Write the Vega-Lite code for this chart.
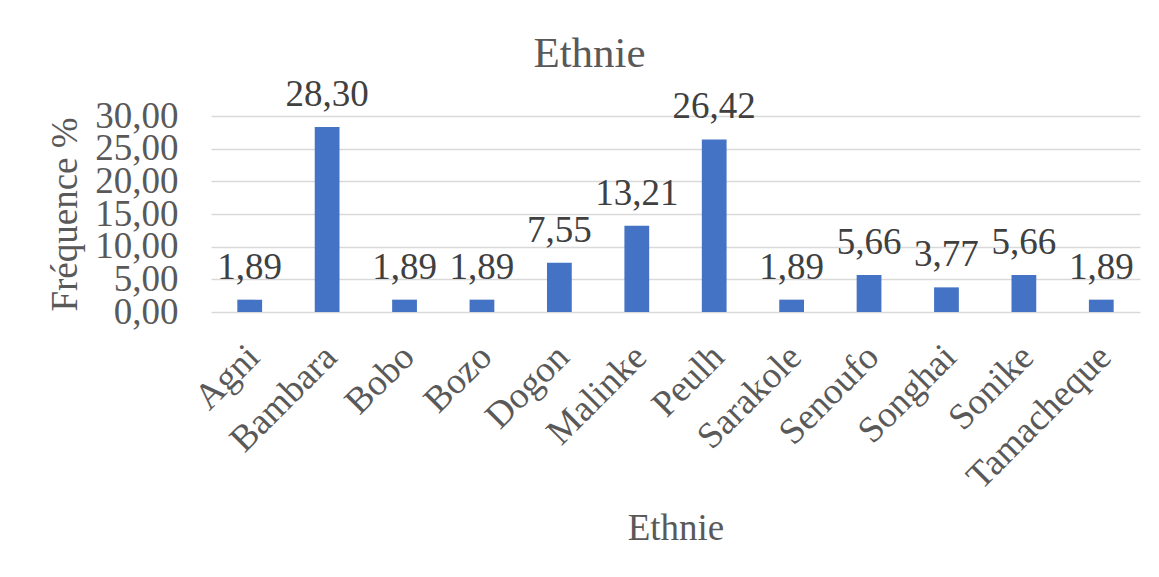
{
  "$schema": "https://vega.github.io/schema/vega-lite/v6.json",
  "width": 929,
  "height": 196,
  "autosize": {"type": "none"},
  "padding": {"left": 211, "top": 116, "right": 19, "bottom": 265},
  "background": "white",
  "config": {
    "font": "Liberation Serif",
    "view": {"stroke": null},
    "locale": {"number": {"decimal": ",", "thousands": " ", "grouping": [3], "currency": ["", " €"]}}
  },
  "title": {
    "text": "Ethnie",
    "fontSize": 43,
    "font": "Liberation Serif",
    "fontWeight": "normal",
    "color": "#595959",
    "anchor": "middle",
    "frame": "group",
    "dx": -86,
    "dy": 8,
    "offset": 8
  },
  "data": {
    "values": [
      {"ethnie": "Agni", "freq": 1.89},
      {"ethnie": "Bambara", "freq": 28.30},
      {"ethnie": "Bobo", "freq": 1.89},
      {"ethnie": "Bozo", "freq": 1.89},
      {"ethnie": "Dogon", "freq": 7.55},
      {"ethnie": "Malinke", "freq": 13.21},
      {"ethnie": "Peulh", "freq": 26.42},
      {"ethnie": "Sarakole", "freq": 1.89},
      {"ethnie": "Senoufo", "freq": 5.66},
      {"ethnie": "Songhai", "freq": 3.77},
      {"ethnie": "Sonike", "freq": 5.66},
      {"ethnie": "Tamacheque", "freq": 1.89}
    ]
  },
  "encoding": {
    "x": {
      "field": "ethnie",
      "type": "nominal",
      "sort": null,
      "scale": {"paddingInner": 0.68, "paddingOuter": 0.34},
      "axis": {
        "title": "Ethnie",
        "titleFont": "Liberation Serif",
        "titleFontSize": 37,
        "titleFontWeight": "normal",
        "titleColor": "#595959",
        "titlePadding": 15,
        "labelAngle": -45,
        "labelAlign": "right",
        "labelBaseline": "middle",
        "labelPadding": 39,
        "labelOffset": 4,
        "labelFontSize": 37,
        "labelColor": "#595959",
        "labelFont": "Liberation Serif",
        "labelLimit": 0,
        "labelOverlap": false,
        "ticks": false,
        "domain": false,
        "grid": false
      }
    },
    "y": {
      "field": "freq",
      "type": "quantitative",
      "scale": {"domain": [0, 30], "nice": false},
      "axis": {
        "title": "Fréquence %",
        "titleFont": "Liberation Serif",
        "titleFontSize": 37,
        "titleFontWeight": "normal",
        "titleColor": "#595959",
        "titlePadding": 10,
        "values": [0, 5, 10, 15, 20, 25, 30],
        "format": ".2f",
        "labelFontSize": 37,
        "labelColor": "#595959",
        "labelFont": "Liberation Serif",
        "labelPadding": 33,
        "labelOverlap": false,
        "ticks": false,
        "domain": false,
        "gridColor": "#D9D9D9",
        "gridWidth": 1.5
      }
    }
  },
  "layer": [
    {"mark": {"type": "bar", "color": "#4472C4"}},
    {
      "mark": {"type": "text", "baseline": "alphabetic", "dy": -21, "fontSize": 37, "color": "#404040", "font": "Liberation Serif"},
      "encoding": {"text": {"field": "freq", "type": "quantitative", "format": ".2f"}}
    }
  ]
}
